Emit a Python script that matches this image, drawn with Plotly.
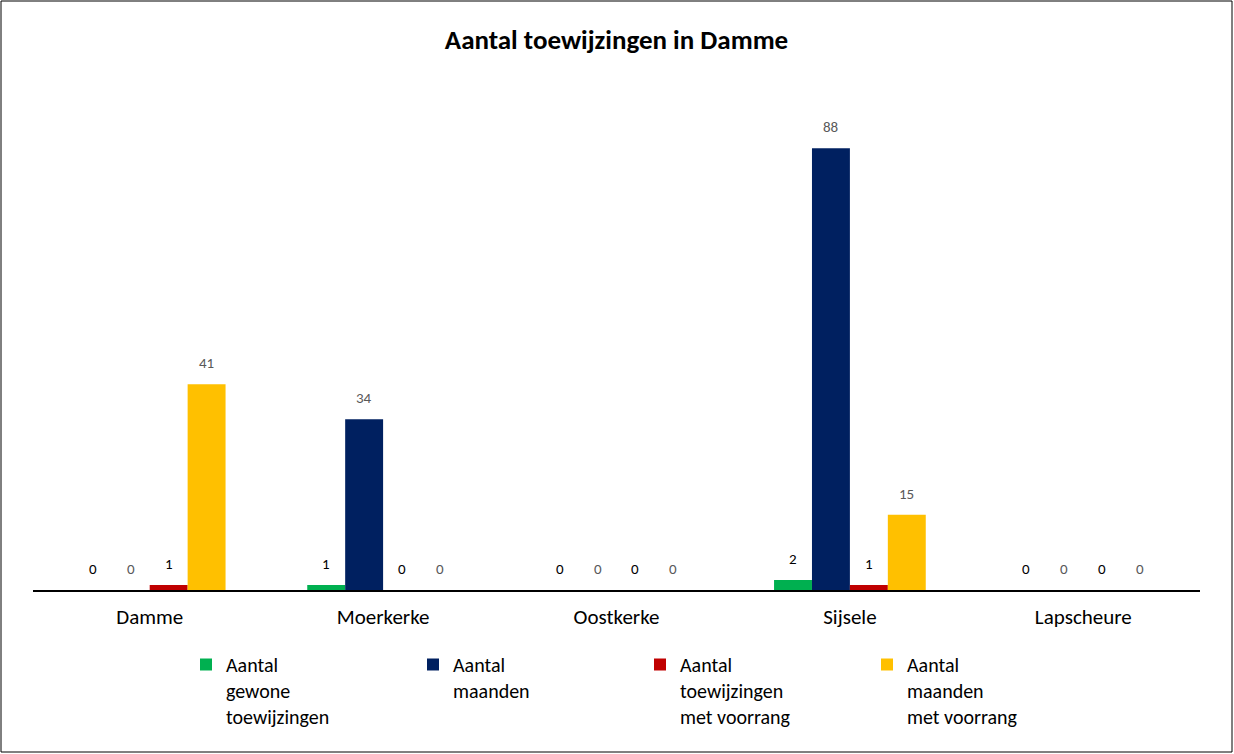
import plotly.graph_objects as go

# Kernen van Damme en de vier reeksen
categories = ["Damme", "Moerkerke", "Oostkerke", "Sijsele", "Lapscheure"]
series_names = [
    "Aantal<br>gewone<br>toewijzingen",
    "Aantal<br>maanden",
    "Aantal<br>toewijzingen<br>met voorrang",
    "Aantal<br>maanden<br>met voorrang",
]
gewone_toewijzingen = [0, 1, 0, 2, 0]
maanden = [0, 34, 0, 88, 0]
toewijzingen_voorrang = [1, 0, 0, 1, 0]
maanden_voorrang = [41, 0, 0, 15, 0]

series_values = [gewone_toewijzingen, maanden, toewijzingen_voorrang, maanden_voorrang]
colors = ["#00B050", "#002060", "#C00000", "#FFC000"]
label_colors = ["#000000", "#595959", "#000000", "#595959"]

FONT = "Calibri, Carlito, Lato, sans-serif"

# Plot-area geometry (pixels)
W, H = 1234, 754
ML, MR, MT, MB = 33, 34, 88, 164
plot_w = W - ML - MR
plot_h = H - MT - MB
bargap = 0.35
bar_px = plot_w / len(categories) * (1 - bargap) / len(series_values)

fig = go.Figure()
for name, vals, col in zip(series_names, series_values, colors):
    fig.add_trace(go.Bar(
        x=categories, y=vals, name=name,
        marker=dict(color=col, line=dict(width=0)),
    ))

# Data labels above each bar
annotations = []
for i, (vals, lc) in enumerate(zip(series_values, label_colors)):
    offset = (i - 1.5) * bar_px
    for cat, v in zip(categories, vals):
        annotations.append(dict(
            x=cat, y=v, xref="x", yref="y", text=str(v), showarrow=False,
            xshift=offset, yshift=21, font=dict(family=FONT, size=15, color=lc),
        ))

# Outer chart border
bx0 = (1 - ML) / plot_w
bx1 = (W - 2 - ML) / plot_w
by1 = (H - MB - 1) / plot_h
by0 = (H - MB - (H - 2)) / plot_h

fig.update_layout(
    width=W, height=H,
    margin=dict(l=ML, r=MR, t=MT, b=MB),
    paper_bgcolor="white", plot_bgcolor="white",
    barmode="group", bargap=bargap, bargroupgap=0,
    title=dict(text="<b>Aantal toewijzingen in Damme</b>", x=(ML + plot_w / 2) / W,
               xanchor="center", y=1 - 40 / H, yanchor="middle",
               font=dict(family=FONT, size=27, color="#000000")),
    font=dict(family=FONT, color="#000000"),
    xaxis=dict(showline=True, linecolor="#000000", linewidth=2, ticks="",
               ticklabelstandoff=7, tickfont=dict(family=FONT, size=21, color="#000000"),
               showgrid=False, zeroline=False),
    yaxis=dict(range=[0, 100], visible=False, showgrid=False, zeroline=False),
    legend=dict(orientation="h", x=(186 - ML) / plot_w, xanchor="left",
                y=-(645 - (H - MB)) / plot_h, yanchor="top",
                entrywidth=182, entrywidthmode="pixels", valign="top",
                font=dict(family=FONT, size=20, color="#000000"),
                traceorder="normal", bgcolor="rgba(0,0,0,0)"),
    annotations=annotations,
    shapes=[dict(type="rect", xref="paper", yref="paper", x0=bx0, x1=bx1, y0=by0, y1=by1,
                 line=dict(color="#000000", width=1), fillcolor="rgba(0,0,0,0)", layer="above")],
)

fig.write_html("out.html")
